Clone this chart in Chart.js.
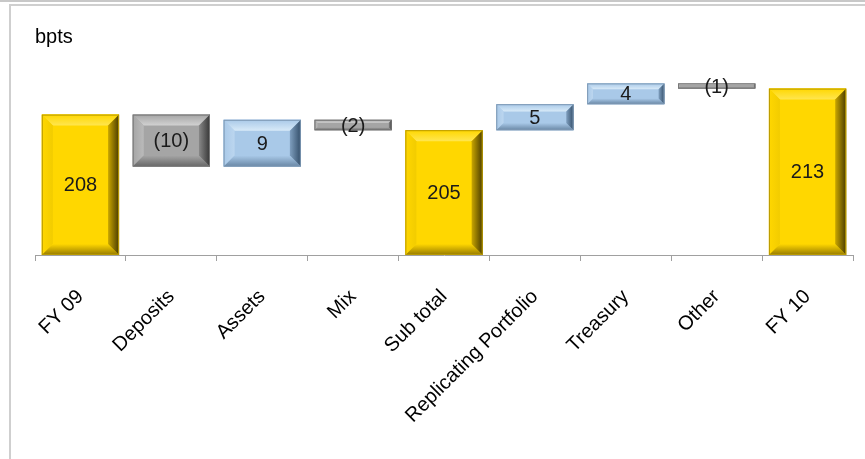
<!DOCTYPE html>
<html>
<head>
<meta charset="utf-8">
<script src="https://cdn.jsdelivr.net/npm/chart.js@4.4.0/dist/chart.umd.min.js"></script>
<style>
  html, body { margin: 0; padding: 0; background: #fff; }
  #wrap { position: relative; width: 865px; height: 459px; overflow: hidden; }
  #topline { position: absolute; left: 0; top: 0; width: 865px; height: 2px; background: #c8c8c8; }
  #frame { position: absolute; left: 9px; top: 4px; width: 870px; height: 470px;
           border-left: 2px solid #cfcfcf; border-top: 2px solid #cfcfcf; }
  canvas { position: absolute; left: 0; top: 0; }
</style>
</head>
<body>
<div id="wrap">
  <div id="topline"></div>
  <div id="frame"></div>
  <canvas id="waterfall" width="865" height="459"></canvas>
</div>
<script>
// waterfall data
const categories = ['FY 09', 'Deposits', 'Assets', 'Mix', 'Sub total', 'Replicating Portfolio', 'Treasury', 'Other', 'FY 10'];
const values = [208, -10, 9, -2, 205, 5, 4, -1, 213];
const isTotal = [true, false, false, false, true, false, false, false, true];
const axisMin = 181;
const axisMax = 221;
const unitLabel = 'bpts';

// floating ranges for each bar
let running = 0;
const ranges = values.map((v, i) => {
  if (isTotal[i]) {
    running = v;
    return [axisMin, v];
  }
  const r = [running, running + v];
  running += v;
  return r;
});

// colour sets for the bevelled look
const palettes = {
  total: { face: '#ffd700', top: '#ffe650', left: '#f2cc00', right: '#4a3c00', rightIn: '#c9a600', bottom: '#967a00', edge: '#b89900' },
  neg:   { face: '#a5a5a5', top: '#d2d2d2', left: '#bababa', right: '#363636', rightIn: '#888888', bottom: '#666666', edge: '#777777' },
  pos:   { face: '#a9c9e8', top: '#d8eaf8', left: '#bcd6ef', right: '#334e69', rightIn: '#7f9fbf', bottom: '#6886a4', edge: '#7d98b3' }
};
const kinds = values.map((v, i) => isTotal[i] ? 'total' : (v < 0 ? 'neg' : 'pos'));
const fontFamily = '"Liberation Sans", Arial, sans-serif';

function poly(ctx, pts, fill) {
  ctx.beginPath();
  ctx.moveTo(pts[0][0], pts[0][1]);
  for (let k = 1; k < pts.length; k++) ctx.lineTo(pts[k][0], pts[k][1]);
  ctx.closePath();
  ctx.fillStyle = fill;
  ctx.fill();
}

// bevelled bars + labels
const bevelPlugin = {
  id: 'bevel',
  afterDatasetsDraw(chart) {
    const ctx = chart.ctx;
    const meta = chart.getDatasetMeta(0);
    ctx.save();
    meta.data.forEach((bar, i) => {
      const p = palettes[kinds[i]];
      const x0 = bar.x - bar.width / 2, x1 = bar.x + bar.width / 2;
      const y0 = Math.min(bar.y, bar.base), y1 = Math.max(bar.y, bar.base);
      const h = y1 - y0, w = x1 - x0;
      const b = Math.min(11, h * 0.28, w * 0.15);

      ctx.fillStyle = p.face;
      ctx.fillRect(x0, y0, w, h);

      // top
      let g = ctx.createLinearGradient(0, y0, 0, y0 + b);
      g.addColorStop(0, p.face);
      g.addColorStop(1, p.top);
      poly(ctx, [[x0, y0], [x1, y0], [x1 - b, y0 + b], [x0 + b, y0 + b]], g);
      // left
      g = ctx.createLinearGradient(x0, 0, x0 + b, 0);
      g.addColorStop(0, p.face);
      g.addColorStop(1, p.left);
      poly(ctx, [[x0, y0], [x0 + b, y0 + b], [x0 + b, y1 - b], [x0, y1]], g);
      // bottom
      g = ctx.createLinearGradient(0, y1 - b, 0, y1);
      g.addColorStop(0, p.face);
      g.addColorStop(1, p.bottom);
      poly(ctx, [[x0, y1], [x1, y1], [x1 - b, y1 - b], [x0 + b, y1 - b]], g);
      // right
      g = ctx.createLinearGradient(x1 - b, 0, x1, 0);
      g.addColorStop(0, p.rightIn);
      g.addColorStop(1, p.right);
      poly(ctx, [[x1, y0], [x1 - b, y0 + b], [x1 - b, y1 - b], [x1, y1]], g);

      ctx.strokeStyle = p.edge;
      ctx.lineWidth = 1;
      ctx.strokeRect(x0 + 0.5, y0 + 0.5, w - 1, h - 1);

      // value label
      const v = values[i];
      const txt = v < 0 ? '(' + Math.abs(v) + ')' : String(v);
      ctx.fillStyle = '#1a1a1a';
      ctx.font = '20px ' + fontFamily;
      ctx.textAlign = 'center';
      ctx.textBaseline = 'middle';
      ctx.fillText(txt, bar.x, (y0 + y1) / 2 + 1);
    });

    // unit caption
    ctx.fillStyle = '#000';
    ctx.font = '20px ' + fontFamily;
    ctx.textAlign = 'left';
    ctx.textBaseline = 'middle';
    ctx.fillText(unitLabel, 35, 37);
    ctx.restore();
  }
};

const wf = document.getElementById('waterfall').getContext('2d');

new Chart(wf, {
  type: 'bar',
  data: {
    labels: categories,
    datasets: [{
      label: 'bpts',
      data: ranges,
      backgroundColor: kinds.map(k => palettes[k].face),
      borderWidth: 0,
      categoryPercentage: 1,
      barPercentage: 0.85
    }]
  },
  options: {
    responsive: false,
    animation: false,
    layout: {
      padding: { left: 35, right: 12, top: 47, bottom: 0 }
    },
    plugins: {
      legend: { display: false },
      tooltip: { enabled: false }
    },
    scales: {
      y: {
        display: false,
        min: axisMin,
        max: axisMax
      },
      x: {
        afterFit: (scale) => { scale.height = 204; },
        grid: {
          offset: true,
          drawOnChartArea: false,
          drawTicks: true,
          tickLength: 6,
          color: '#a0a0a0'
        },
        border: { display: true, color: '#a0a0a0', width: 1 },
        ticks: {
          minRotation: 45,
          maxRotation: 45,
          autoSkip: false,
          padding: 24,
          color: '#000',
          font: { family: fontFamily, size: 20 }
        }
      }
    }
  },
  plugins: [bevelPlugin]
});
</script>
</body>
</html>
